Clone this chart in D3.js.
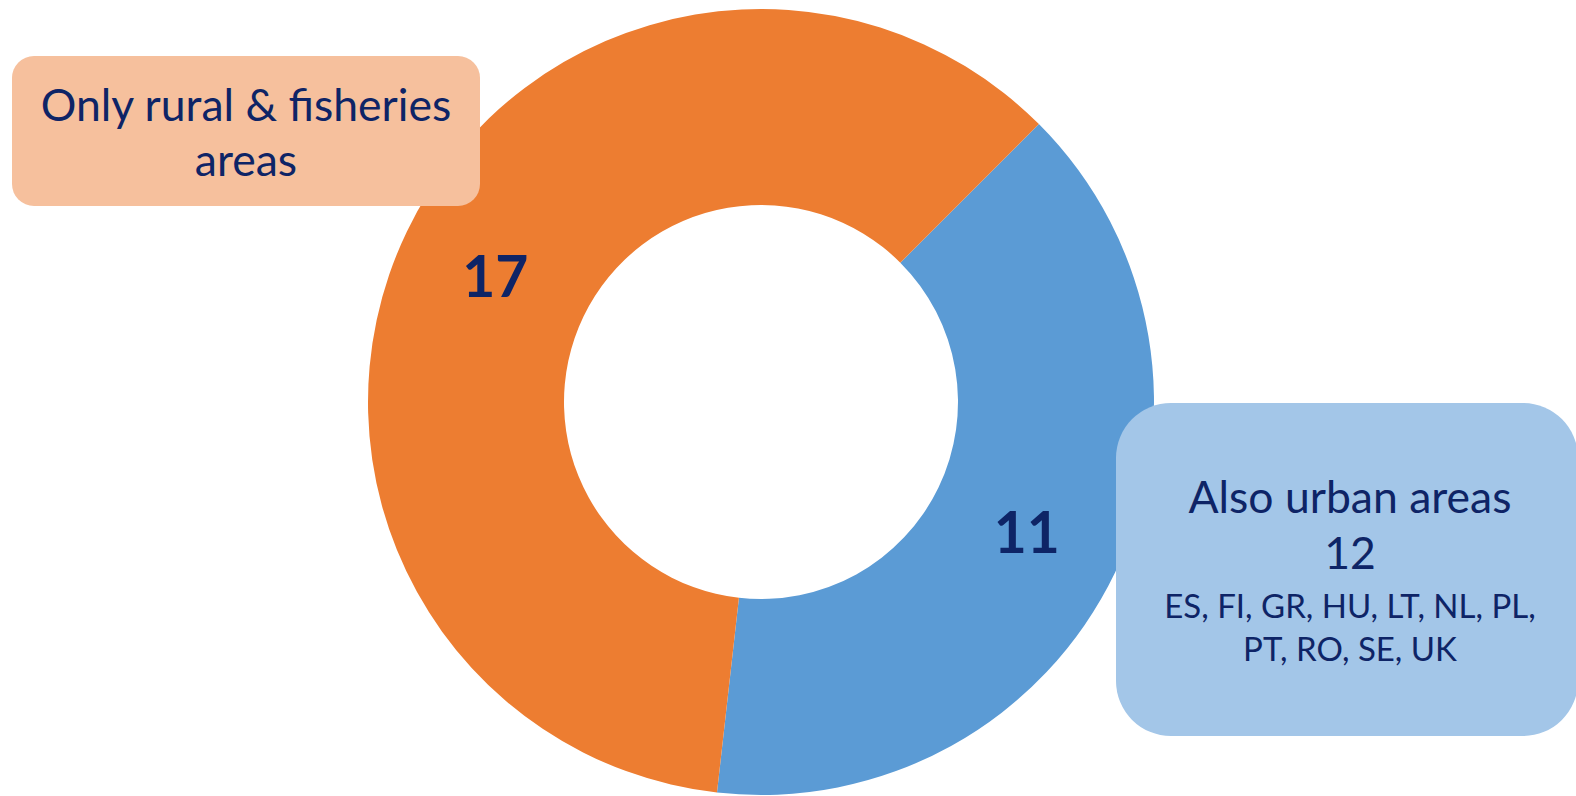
<!DOCTYPE html>
<html>
<head>
<meta charset="utf-8">
<script src="https://cdn.jsdelivr.net/npm/d3@7"></script>
<style>
  html, body { margin: 0; padding: 0; background: #fff; }
  svg { display: block; }
</style>
</head>
<body>
<svg id="chart"></svg>
<script>
// data
const categories = ['Also urban areas', 'Only rural & fisheries areas'];
const values = [11, 17];
const sliceColors = ['#5B9BD5', '#ED7D31'];

const ruralLabel = ['Only rural & fisheries', 'areas'];
const urbanLabel = ['Also urban areas', '12'];
const urbanCountries = ['ES, FI, GR, HU, LT, NL, PL,', 'PT, RO, SE, UK'];

const width = 1576;
const height = 796;
const cx = 761, cy = 402;
const outerR = 393, innerR = 197;
const navy = '#0E2466';

const svg = d3.select('#chart')
    .attr('width', width)
    .attr('height', height)
    .attr('font-family', 'Lato, sans-serif');

const pie = d3.pie()
    .sort(null)
    .startAngle(Math.PI / 4)
    .endAngle(Math.PI / 4 + 2 * Math.PI)
    .value(d => d);

const arc = d3.arc()
    .innerRadius(innerR)
    .outerRadius(outerR);

const color = d3.scaleOrdinal()
    .domain(categories)
    .range(sliceColors);

const g = svg.append('g')
    .attr('transform', 'translate(' + cx + ',' + cy + ')');

const arcs = pie(values);

g.selectAll('path')
    .data(arcs)
  .enter().append('path')
    .attr('d', arc)
    .attr('fill', (d, i) => color(categories[i]));

g.selectAll('text.value')
    .data(arcs)
  .enter().append('text')
    .attr('class', 'value')
    .attr('transform', d => 'translate(' + arc.centroid(d) + ')')
    .attr('text-anchor', 'middle')
    .attr('dy', '0.4em')
    .attr('font-size', 57)
    .attr('font-weight', 'bold')
    .attr('fill', navy)
    .text(d => d.data);

// callout: rural
const rural = svg.append('g');
rural.append('rect')
    .attr('x', 12).attr('y', 56)
    .attr('width', 468).attr('height', 150)
    .attr('rx', 22).attr('ry', 22)
    .attr('fill', '#F6C09D');
rural.selectAll('text')
    .data(ruralLabel)
  .enter().append('text')
    .attr('x', 246)
    .attr('y', (d, i) => 121 + i * 55)
    .attr('text-anchor', 'middle')
    .attr('font-size', 44.5)
    .attr('fill', navy)
    .text(d => d);

// callout: urban
const urban = svg.append('g');
urban.append('rect')
    .attr('x', 1116).attr('y', 403)
    .attr('width', 462).attr('height', 333)
    .attr('rx', 55).attr('ry', 55)
    .attr('fill', '#A3C6E8');
urban.selectAll('text.head')
    .data(urbanLabel)
  .enter().append('text')
    .attr('class', 'head')
    .attr('x', 1350)
    .attr('y', (d, i) => 513 + i * 56)
    .attr('text-anchor', 'middle')
    .attr('font-size', 44.5)
    .attr('fill', navy)
    .text(d => d);
urban.selectAll('text.list')
    .data(urbanCountries)
  .enter().append('text')
    .attr('class', 'list')
    .attr('x', 1350)
    .attr('y', (d, i) => 618 + i * 43)
    .attr('text-anchor', 'middle')
    .attr('font-size', 33)
    .attr('fill', navy)
    .text(d => d);
</script>
</body>
</html>
